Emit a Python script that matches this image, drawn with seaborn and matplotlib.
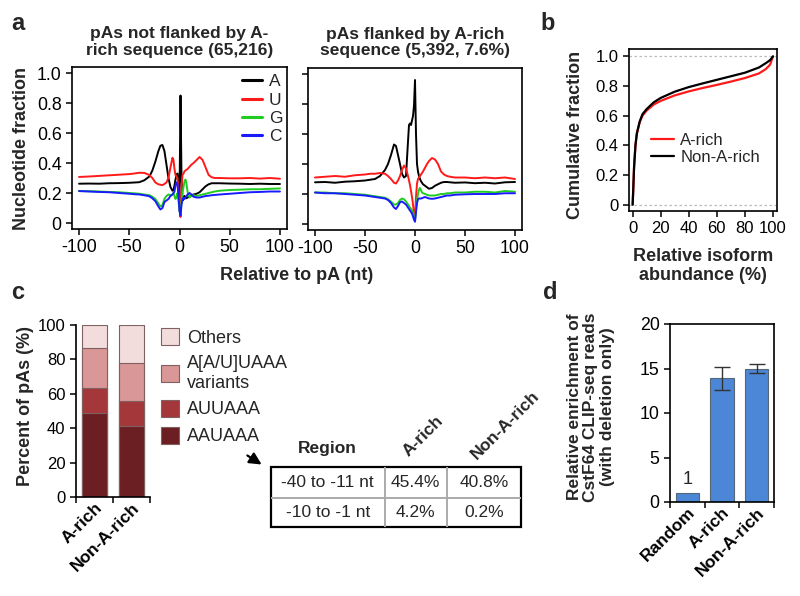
import numpy as np
import pandas as pd
import seaborn as sns
import matplotlib.pyplot as plt
from matplotlib.patches import Patch
from matplotlib.ticker import FuncFormatter

sns.set_theme(style="ticks")
plt.rcParams['font.family'] = ['Liberation Sans', 'DejaVu Sans']
plt.rcParams['axes.linewidth'] = 1.2
plt.rcParams['axes.unicode_minus'] = False

# ---- panel a: nucleotide profiles around the pA site ----
pos = [-100, -90, -80, -70, -60, -50, -45, -40, -35, -30, -27, -24, -21, -19, -17, -15, -13, -11,
       -9, -7, -6, -5, -4, -3, -2, -1, 0, 1, 2, 3, 4, 5, 6, 7, 8, 10, 12, 14, 17, 20,
       23, 26, 29, 32, 35, 40, 50, 60, 70, 80, 90, 100]

# not flanked by A-rich sequence
nf_A = [.262, .263, .262, .265, .266, .268, .27, .272, .285, .31, .35, .41, .48, .515, .52, .48, .39, .30,
        .24, .215, .22, .25, .29, .32, .33, .28, .15, .85, .30, .15, .16, .18, .17, .165, .17, .175, .185, .19, .195, .205,
        .225, .245, .258, .265, .265, .265, .263, .262, .26, .262, .26, .26]
nf_U = [.307, .31, .314, .318, .322, .326, .33, .335, .334, .32, .30, .27, .258, .255, .253, .26, .27, .30,
        .37, .435, .42, .36, .32, .31, .30, .22, .10, .04, .25, .32, .33, .345, .35, .355, .36, .375, .39, .40, .42, .44,
        .42, .37, .32, .305, .30, .30, .298, .298, .30, .296, .30, .295]
nf_G = [.213, .212, .21, .207, .205, .20, .198, .195, .19, .185, .175, .16, .13, .11, .12, .16, .18, .19,
        .185, .19, .20, .18, .16, .17, .20, .15, .08, .06, .15, .20, .24, .28, .29, .26, .21, .17, .185, .185, .18, .185,
        .19, .195, .20, .205, .21, .215, .22, .222, .225, .225, .228, .23]
nf_C = [.213, .21, .207, .205, .20, .195, .192, .19, .185, .178, .165, .145, .11, .09, .10, .14, .15, .16,
        .18, .19, .20, .21, .25, .27, .26, .18, .08, .05, .12, .16, .17, .16, .17, .18, .19, .20, .19, .175, .17, .17,
        .175, .18, .182, .185, .187, .19, .195, .20, .205, .207, .21, .21]

# flanked by A-rich sequence
fl_A = [.278, .28, .275, .282, .285, .29, .295, .30, .32, .36, .40, .46, .53, .52, .46, .40, .335, .31,
        .32, .55, .66, .67, .66, .69, .72, .79, .96, .60, .40, .35, .32, .30, .285, .275, .265, .255, .245, .235, .24, .255,
        .265, .275, .28, .28, .278, .275, .277, .272, .275, .27, .278, .28]
fl_U = [.31, .315, .32, .315, .325, .33, .335, .335, .34, .335, .32, .30, .275, .27, .29, .32, .36, .39,
        .37, .32, .29, .26, .22, .18, .13, .07, .03, .18, .27, .30, .31, .32, .33, .34, .35, .375, .40, .42, .44, .43,
        .40, .35, .33, .32, .315, .31, .31, .305, .31, .305, .31, .30]
fl_G = [.21, .21, .205, .205, .20, .195, .19, .185, .18, .175, .165, .15, .13, .13, .14, .16, .17, .165,
        .15, .13, .12, .11, .10, .09, .07, .04, .02, .10, .16, .20, .23, .24, .225, .21, .205, .20, .195, .19, .19, .19,
        .195, .20, .20, .205, .205, .21, .21, .215, .215, .21, .22, .215]
fl_C = [.21, .205, .205, .20, .195, .19, .185, .18, .175, .17, .16, .14, .11, .10, .12, .145, .15, .14,
        .13, .11, .10, .09, .08, .07, .05, .03, .015, .08, .14, .165, .17, .17, .17, .172, .175, .18, .175, .17, .168, .17,
        .175, .18, .185, .19, .19, .195, .198, .20, .20, .20, .205, .205]

nt_colors = {'A': 'black', 'U': '#ff1a1a', 'G': '#1fcc1f', 'C': '#1a1aff'}

# ---- panel b: cumulative distribution ----
abund = [0, 0.5, 1, 2, 3, 5, 7, 10, 15, 20, 30, 40, 50, 60, 70, 80, 90, 95, 98, 100]
cum_nonarich = [0, .12, .25, .40, .48, .56, .61, .645, .69, .72, .762, .793, .818, .842, .866, .89, .925, .955, .975, 1.0]
cum_arich = [0, .12, .25, .40, .48, .555, .60, .635, .675, .70, .737, .764, .787, .808, .83, .854, .885, .915, .945, 1.0]

# ---- panel c: PAS composition ----
groups = ['A-rich', 'Non-A-rich']
pas_names = ['AAUAAA', 'AUUAAA', 'A[A/U]UAAA\nvariants', 'Others']
pas_pct = {'AAUAAA': [49, 41], 'AUUAAA': [14.5, 15],
           'A[A/U]UAAA\nvariants': [23, 22], 'Others': [13.5, 22]}
pas_colors = ['#6b1f22', '#a3373a', '#d99797', '#f3dcdc']

table_rows = ['-40 to -11 nt', '-10 to -1 nt']
table_arich = ['45.4%', '4.2%']
table_nonarich = ['40.8%', '0.2%']

# ---- panel d: CstF64 CLIP enrichment ----
clip_groups = ['Random', 'A-rich', 'Non-A-rich']
clip_enrich = [1, 13.9, 14.95]
clip_err = [0, 1.3, 0.5]

W, H = 800, 596
fig = plt.figure(figsize=(W / 100, H / 100), dpi=100)


def box(l, t, r, b):
    return [l / W, 1 - b / H, (r - l) / W, (b - t) / H]


def ftext(px, py, s, **kw):
    fig.text(px / W, 1 - py / H, s, ha=kw.pop('ha', 'center'), va=kw.pop('va', 'center'), **kw)


def r_fmt(v, _):
    return '0' if abs(v) < 1e-9 else ('%g' % v if v != 1 else '1.0')


tick_kw = dict(direction='out', length=4.5, width=1.1, labelsize=12, colors='black', pad=3)

# panel a
prof = pd.DataFrame({'pos': pos * 8,
                     'frac': nf_A + nf_U + nf_G + nf_C + fl_A + fl_U + fl_G + fl_C,
                     'nt': sum([[n] * len(pos) for n in 'AUGC'], []) * 2,
                     'set': ['nf'] * (4 * len(pos)) + ['fl'] * (4 * len(pos))})

ax1 = fig.add_axes(box(72, 67, 287, 229))
ax2 = fig.add_axes(box(308, 68, 522, 230))
for ax, key in [(ax1, 'nf'), (ax2, 'fl')]:
    sns.lineplot(data=prof[prof['set'] == key], x='pos', y='frac', hue='nt', palette=nt_colors,
                 hue_order=['A', 'U', 'G', 'C'], estimator=None, lw=1.4, ax=ax, legend=(key == 'nf'))
    ax.set_xlim(-107, 107)
    ax.set_ylim(-0.04, 1.04)
    ax.set_xticks([-100, -50, 0, 50, 100])
    ax.set_yticks([0, 0.2, 0.4, 0.6, 0.8, 1.0])
    ax.yaxis.set_major_formatter(FuncFormatter(r_fmt))
    ax.tick_params(**tick_kw)
    ax.tick_params(labelsize=12.8)
    ax.set_xlabel('')
    ax.set_ylabel('')
    for s in ax.spines.values():
        s.set_visible(True)
        s.set_color('black')
ax2.tick_params(axis='y', labelleft=False)
leg = ax1.legend(loc='upper left', bbox_to_anchor=(0.79, 0.955), frameon=False, fontsize=12.5,
                 handlelength=1.15, handletextpad=0.4, labelspacing=0.18, borderpad=0, borderaxespad=0)
for line in leg.get_lines():
    line.set_linewidth(2.2)
ax1.set_title('pAs not flanked by A-\nrich sequence (65,216)', fontsize=12.5, fontweight='bold', pad=9, linespacing=1.15)
ax2.set_title('pAs flanked by A-rich\nsequence (5,392, 7.6%)', fontsize=12.5, fontweight='bold', pad=9, linespacing=1.15)
ftext(22, 148, 'Nucleotide fraction', rotation=90, fontsize=13, fontweight='bold')
ftext(297, 276, 'Relative to pA (nt)', fontsize=13, fontweight='bold')

# panel b
axb = fig.add_axes(box(629, 49, 777, 211))
axb.axhline(0, color='#bbbbbb', ls=(0, (2, 2)), lw=0.9)
axb.axhline(1, color='#bbbbbb', ls=(0, (2, 2)), lw=0.9)
sns.lineplot(x=abund, y=cum_arich, color='#ff1a1a', lw=1.6, ax=axb, label='A-rich', estimator=None)
sns.lineplot(x=abund, y=cum_nonarich, color='black', lw=1.6, ax=axb, label='Non-A-rich', estimator=None)
axb.set_xlim(-2.6, 102.9)
axb.set_ylim(-0.043, 1.05)
axb.set_xticks([0, 20, 40, 60, 80, 100])
axb.set_yticks([0, 0.2, 0.4, 0.6, 0.8, 1.0])
axb.yaxis.set_major_formatter(FuncFormatter(r_fmt))
axb.tick_params(**tick_kw)
for s in axb.spines.values():
    s.set_visible(True)
    s.set_color('black')
axb.legend(loc='upper left', bbox_to_anchor=(0.15, 0.48), frameon=False, fontsize=12,
           handlelength=1.35, handletextpad=0.4, labelspacing=0.1, borderpad=0, borderaxespad=0)
ftext(575, 135, 'Cumulative fraction', rotation=90, fontsize=13, fontweight='bold')
ftext(703, 266, 'Relative isoform\nabundance (%)', fontsize=13, fontweight='bold', linespacing=1.15)

# panel c: stacked bars, drawn as overlaid cumulative totals
axc = fig.add_axes(box(76, 325, 150, 497))
stack = np.cumsum([pas_pct[n] for n in pas_names], axis=0)
for level, col in zip(stack[::-1], pas_colors[::-1]):
    sns.barplot(x=groups, y=level, color=col, width=0.67, edgecolor='#806060', linewidth=0.8,
                saturation=1, ax=axc)
axc.set_xlim(-0.5, 1.5)
axc.set_ylim(0, 100)
axc.set_yticks([0, 20, 40, 60, 80, 100])
axc.set_xticks([-0.5, 0.5, 1.5], minor=True)
axc.tick_params(**tick_kw)
axc.tick_params(axis='y', labelsize=12)
axc.tick_params(axis='x', which='major', length=0, pad=2)
axc.tick_params(axis='x', which='minor', direction='out', length=4.5, width=1.1, color='black')
axc.set_xticklabels(groups, rotation=45, ha='right', rotation_mode='anchor', fontsize=12.5, fontweight='bold')
sns.despine(ax=axc)
axc.spines['left'].set_color('black')
axc.spines['bottom'].set_color('black')
axc.set_xlabel('')
axc.set_ylabel('')
ftext(26, 406, 'Percent of pAs (%)', rotation=90, fontsize=13, fontweight='bold')
handles = [Patch(facecolor=c, edgecolor='#806060', lw=0.8) for c in pas_colors]
fig.legend(handles[::-1], pas_names[::-1], loc='upper left', bbox_to_anchor=(161 / W, 1 - 328 / H),
           frameon=False, fontsize=13, handlelength=1.0, handleheight=1.1, handletextpad=0.45,
           labelspacing=0.45, borderpad=0, borderaxespad=0)

# table of AAUAAA positions
axt = fig.add_axes(box(271, 467, 521, 527))
axt.set_xlim(271, 521)
axt.set_ylim(527, 467)
axt.axis('off')
col_edges = [271, 384.5, 447, 521]
row_edges = [467, 497.5, 527]
for xe in col_edges[1:-1]:
    axt.plot([xe, xe], [row_edges[0], row_edges[-1]], color='#aaaaaa', lw=1.4)
for ye in row_edges[1:-1]:
    axt.plot([col_edges[0], col_edges[-1]], [ye, ye], color='#aaaaaa', lw=1.4)
axt.add_patch(plt.Rectangle((271, 467), 250, 60, fill=False, ec='black', lw=1.6, clip_on=False))
for i, row in enumerate(zip(table_rows, table_arich, table_nonarich)):
    yc = (row_edges[i] + row_edges[i + 1]) / 2
    for j, cell in enumerate(row):
        xc = (col_edges[j] + col_edges[j + 1]) / 2
        axt.text(xc, yc, cell, ha='center', va='center', fontsize=12.5)
axt.text(327, 448, 'Region', ha='center', va='center', fontsize=12.5, fontweight='bold', clip_on=False)
axt.text(423, 436, 'A-rich', ha='center', va='center', rotation=45, fontsize=12.5, fontweight='bold', clip_on=False)
axt.text(505, 425, 'Non-A-rich', ha='center', va='center', rotation=45, fontsize=12.5, fontweight='bold', clip_on=False)
axt.annotate('', xy=(264, 466), xytext=(245, 454), annotation_clip=False,
             arrowprops=dict(arrowstyle='-|>,head_length=0.6,head_width=0.3', color='black', lw=1.6))

# panel d
axd = fig.add_axes(box(670, 324, 774, 502))
sns.barplot(x=clip_groups, y=clip_enrich, color='#4c86d6', saturation=1, width=0.67,
            edgecolor='#556677', linewidth=0.8, ax=axd)
has_err = [e > 0 for e in clip_err]
axd.errorbar(np.arange(len(clip_groups))[has_err], np.array(clip_enrich)[has_err],
             yerr=np.array(clip_err)[has_err], fmt='none', ecolor='#333333', elinewidth=1, capsize=6, capthick=1)
for i, (v, e) in enumerate(zip(clip_enrich, has_err)):
    if not e:
        axd.annotate('%g' % v, xy=(i, v), xytext=(0, 4), textcoords='offset points',
                     ha='center', va='bottom', fontsize=13)
axd.set_xlim(-0.5, 2.5)
axd.set_ylim(0, 20)
axd.set_yticks([0, 5, 10, 15, 20])
axd.set_xticks([-0.5, 0.5, 1.5, 2.5], minor=True)
axd.tick_params(**tick_kw)
axd.tick_params(axis='y', labelsize=12.8)
axd.tick_params(axis='x', which='major', length=0, pad=2)
axd.tick_params(axis='x', which='minor', direction='out', length=4.5, width=1.1, color='black')
axd.set_xticklabels(clip_groups, rotation=45, ha='right', rotation_mode='anchor', fontsize=12.5, fontweight='bold')
for s in axd.spines.values():
    s.set_visible(True)
    s.set_color('black')
axd.set_xlabel('')
axd.set_ylabel('')
ftext(591, 407, 'Relative enrichment of\nCstF64 CLIP-seq reads\n(with deletion only)', rotation=90,
      fontsize=12.5, fontweight='bold', linespacing=1.15)

# panel letters
for letter, px, py in [('a', 18, 24), ('b', 548, 23), ('c', 18, 292), ('d', 550, 292)]:
    ftext(px, py, letter, fontsize=17, fontweight='bold')

fig.savefig('out.png', dpi=100, facecolor='white')
